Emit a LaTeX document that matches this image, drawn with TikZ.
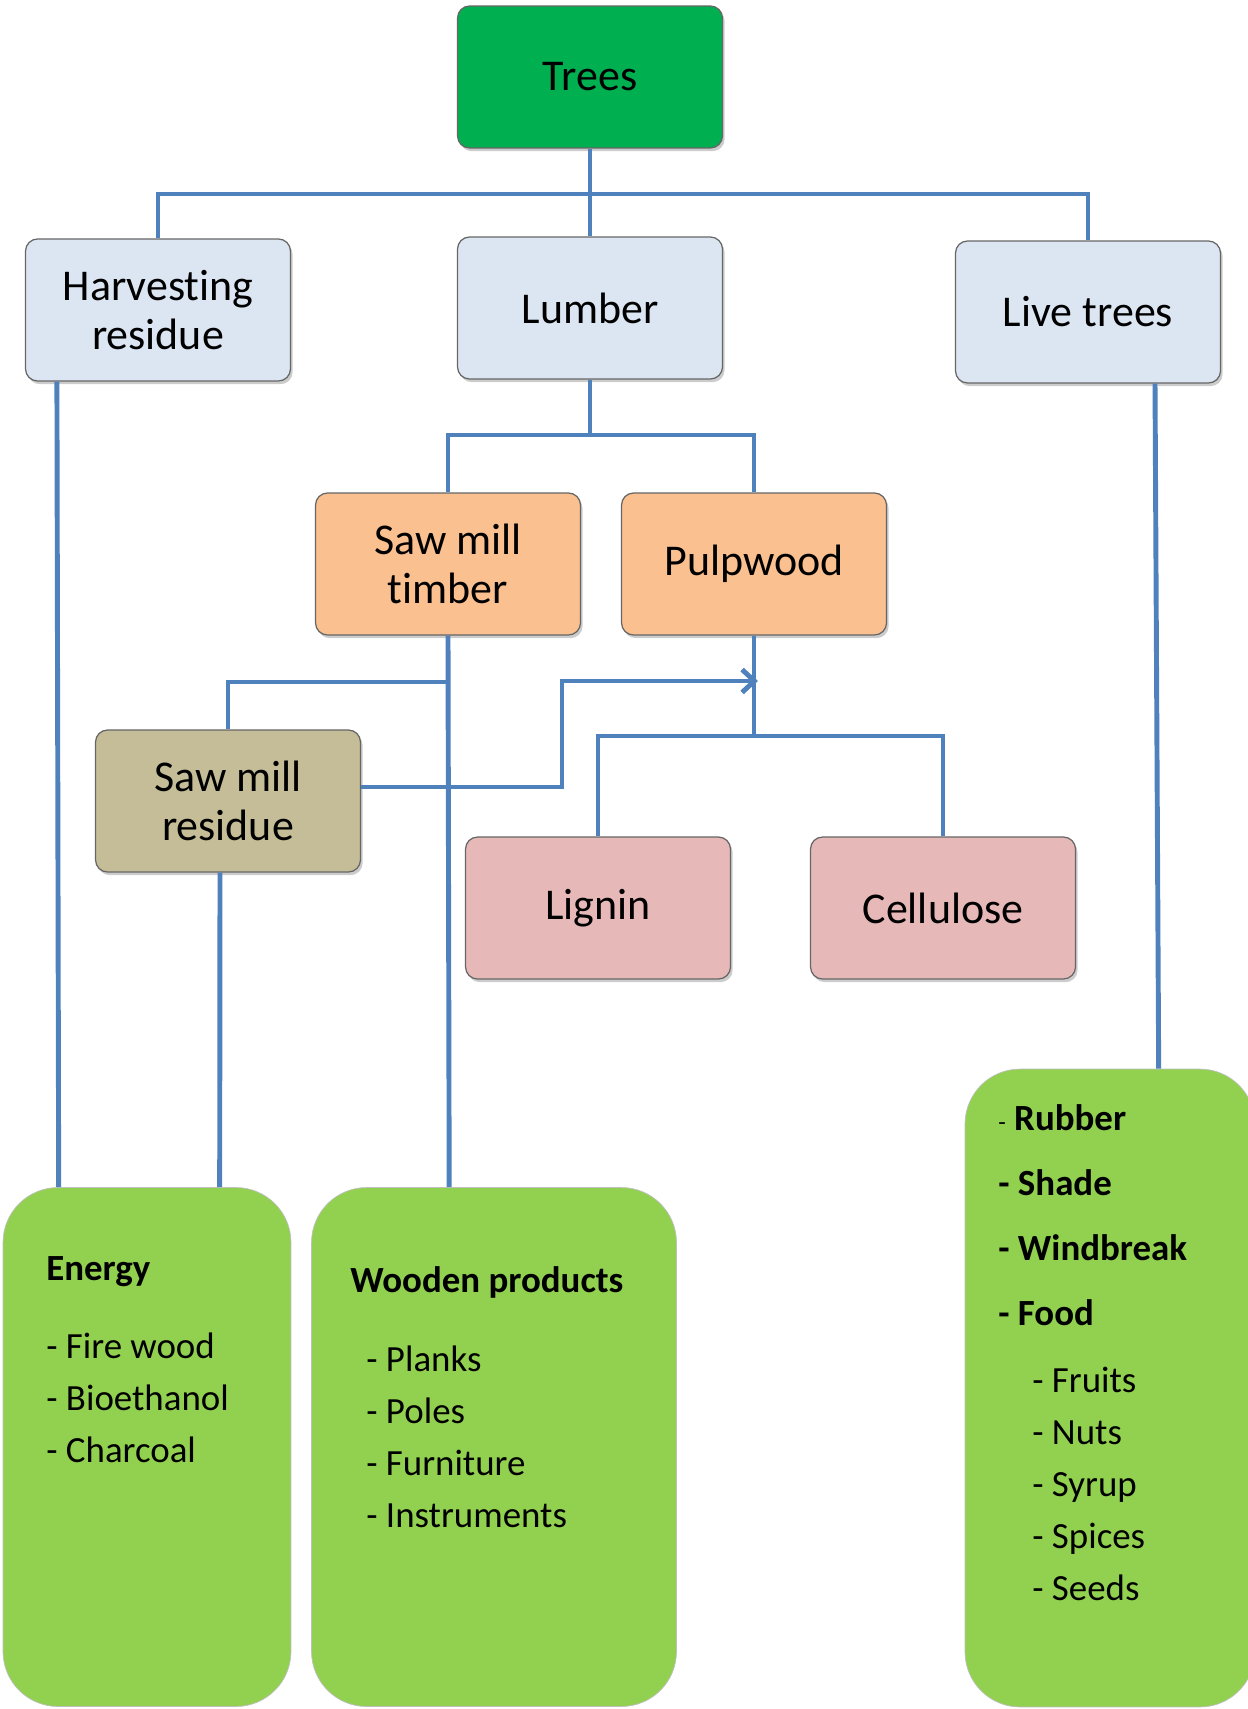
\documentclass[tikz,border=0pt]{standalone}
\usepackage{fontspec}
\setmainfont{Carlito}[Ligatures={TeX,NoCommon}]
\usepackage{tikz}
\usetikzlibrary{positioning, arrows.meta, shadows, calc}

\definecolor{linkblue}{HTML}{4F81BD}
\definecolor{treegreen}{HTML}{00B050}
\definecolor{paleblue}{HTML}{DCE6F2}
\definecolor{peach}{HTML}{FAC090}
\definecolor{khaki}{HTML}{C4BD97}
\definecolor{rose}{HTML}{E6B9B8}
\definecolor{usegreen}{HTML}{92D050}

\tikzset{
  unit/.style={draw=black!60, line width=0.7pt, rounded corners=0.24cm, align=center,
    minimum width=5.3cm, minimum height=2.84cm, inner sep=2pt,
    font=\fontsize{25}{27.5}\selectfont,
    drop shadow={shadow xshift=1.2pt, shadow yshift=-1.8pt, opacity=0.4}},
  usebox/.style={draw=black!25, thin, fill=usegreen, rounded corners=1.1cm},
  link/.style={draw=linkblue, line width=2.8pt},
  item/.style={anchor=base west, inner sep=0pt, font=\fontsize{21}{25}\selectfont},
  itemhead/.style={item, font=\fontsize{21}{25}\selectfont\bfseries},
}

\begin{document}
\begin{tikzpicture}[x=0.02cm, y=-0.02cm]
\useasboundingbox (0,0) rectangle (1247,1709);

% boxes
\node[unit, fill=treegreen] (trees) at (590,77) {Trees};
\node[unit, fill=paleblue] (harvest) at (158,310) {Harvesting\\residue};
\node[unit, fill=paleblue] (lumber) at (590,308) {Lumber};
\node[unit, fill=paleblue] (live) at (1088,312) {Live trees};
\node[unit, fill=peach] (sawtimber) at (448,564) {Saw mill\\timber};
\node[unit, fill=peach] (pulp) at (754,564) {Pulpwood};
\node[unit, fill=khaki] (sawres) at (228,801) {Saw mill\\residue};
\node[unit, fill=rose] (lignin) at (598,908) {Lignin};
\node[unit, fill=rose] (cellulose) at (943,908) {Cellulose};

% uses
\node[usebox, minimum width=5.76cm, minimum height=10.38cm] (energy) at (147,1447) {};
\node[usebox, minimum width=7.3cm, minimum height=10.38cm] (wood) at (494,1447) {};
\node[usebox, minimum width=5.8cm, minimum height=12.76cm] (livebox) at (1110,1388) {};

\node[itemhead] (enhead) at (46,1280) {Energy};
\foreach \t [count=\i] in {Fire wood, Bioethanol, Charcoal}
  \node[item] (en\i) at (46,{1306+52*\i}) {- \t};

\node[itemhead] (woodhead) at (350,1292) {Wooden products};
\foreach \t [count=\i] in {Planks, Poles, Furniture, Instruments}
  \node[item] (wd\i) at (366,{1319+52*\i}) {- \t};

\node[item] (lv1) at (998,1130) {{\fontsize{14}{16}\selectfont -} \textbf{Rubber}};
\foreach \t [count=\i from 2] in {Shade, Windbreak, Food}
  \node[itemhead] (lv\i) at (998,{1065+65*\i}) {- \t};
\foreach \t [count=\i] in {Fruits, Nuts, Syrup, Spices, Seeds}
  \node[item] (fd\i) at (1032,{1340+52*\i}) {- \t};

% connectors
\coordinate (treehub) at (590,194);
\coordinate (lumhub) at (590,435);
\coordinate (pulphub) at (754,736);
\coordinate (timhub) at (448,682);
\coordinate (bend) at (562,681);
\coordinate (pulpin) at (758,681);

\draw[link] (trees) -- (lumber);
\draw[link] (harvest.north) |- (treehub) -| (live.north);
\draw[link] (lumber) -- (lumhub);
\draw[link] (sawtimber.north) |- (lumhub) -| (pulp.north);
\draw[link] (pulp) -- (pulphub);
\draw[link] (lignin.north) |- (pulphub) -| (cellulose.north);
\draw[link] (sawres.north) |- (timhub);
\draw[link] (sawtimber.south) -- ($(wood.north west)+(138,0)$);
\draw[link, -{Straight Barb[length=7pt, width=13pt]}] ($(sawres.east)+(0,-14)$) -| (bend) -- (pulpin);
\draw[link] ($(harvest.south west)+(32,0)$) -- ($(energy.north west)+(56,0)$);
\draw[link] ($(sawres.south)+(-8,0)$) -- ($(energy.north west)+(217,0)$);
\draw[link] ($(live.south)+(67,0)$) -- ($(livebox.north west)+(194,0)$);
\end{tikzpicture}
\end{document}
